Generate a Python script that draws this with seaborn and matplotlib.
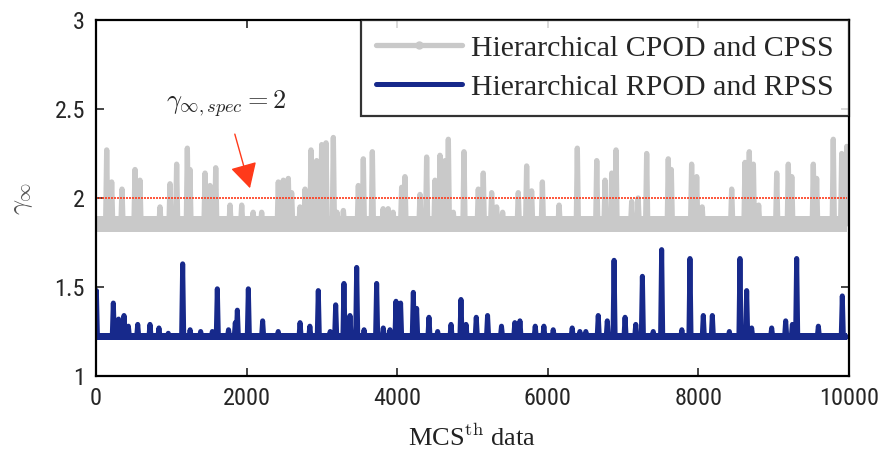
import matplotlib
matplotlib.use("Agg")
import matplotlib.pyplot as plt
from matplotlib import font_manager
from matplotlib.lines import Line2D
import seaborn as sns
import pandas as pd

# Peak positions / heights of the excursions above the noise floor
gray_peak_x = [142, 208, 345, 518, 584, 850, 983, 1071, 1213, 1248, 1448, 1514, 1590, 1780, 1935,
               2087, 2200, 2421, 2488, 2554, 2598, 2709, 2776, 2855, 2930, 2997, 3055, 3152, 3200,
               3285, 3484, 3550, 3670, 3813, 3880, 3946, 4059, 4103, 4303, 4391, 4502, 4568, 4635,
               4679, 4745, 4887, 5077, 5143, 5254, 5320, 5400, 5608, 5719, 5785, 5928, 6150, 6392,
               6650, 6760, 6849, 6906, 7114, 7200, 7313, 7600, 7640, 7910, 7977, 8050, 8442, 8619,
               8676, 8730, 8800, 9040, 9194, 9240, 9526, 9570, 9791, 9903, 9970]
gray_peak_y = [2.27, 2.09, 2.05, 2.16, 2.10, 1.95, 2.08, 2.19, 2.28, 2.16, 2.14, 2.07, 2.17, 1.96, 1.96,
               1.92, 1.92, 2.09, 2.10, 2.11, 2.03, 1.95, 2.05, 2.27, 2.21, 2.30, 2.31, 2.34, 1.92,
               1.93, 2.07, 2.22, 2.26, 1.94, 1.94, 1.92, 2.06, 2.12, 2.02, 2.23, 2.10, 2.24, 2.21,
               2.33, 1.92, 2.26, 2.05, 2.14, 2.03, 1.95, 1.92, 2.03, 2.18, 2.04, 2.09, 1.96, 2.28,
               2.21, 2.10, 2.14, 2.27, 1.98, 2.00, 2.25, 2.22, 2.16, 2.19, 2.12, 1.95, 2.05, 2.20,
               2.26, 2.19, 1.96, 2.14, 2.19, 2.12, 2.19, 2.11, 2.33, 2.25, 2.29]
gray_floor = (1.81, 1.90)

blue_peak_x = [5, 230, 300, 372, 430, 554, 717, 836, 960, 1151, 1250, 1390, 1545, 1611, 1760,
               1850, 1877, 2023, 2213, 2420, 2710, 2840, 2952, 3110, 3183, 3293, 3373, 3462, 3560,
               3727, 3815, 3904, 3984, 4045, 4214, 4258, 4422, 4537, 4715, 4847, 4914, 5050, 5200,
               5385, 5562, 5630, 5833, 5948, 6072, 6324, 6426, 6505, 6670, 6790, 6880, 7026, 7168,
               7256, 7400, 7512, 7780, 7888, 8065, 8185, 8411, 8552, 8641, 8707, 8973, 9159, 9248,
               9305, 9593, 9911]
blue_peak_y = [1.48, 1.41, 1.32, 1.34, 1.28, 1.29, 1.29, 1.27, 1.24, 1.63, 1.26, 1.25, 1.25, 1.49, 1.26,
               1.30, 1.37, 1.49, 1.31, 1.25, 1.30, 1.28, 1.48, 1.25, 1.40, 1.52, 1.34, 1.61, 1.26,
               1.52, 1.27, 1.26, 1.42, 1.41, 1.47, 1.38, 1.33, 1.25, 1.29, 1.43, 1.29, 1.33, 1.34,
               1.28, 1.30, 1.31, 1.28, 1.28, 1.26, 1.27, 1.25, 1.25, 1.34, 1.31, 1.65, 1.33, 1.29,
               1.56, 1.25, 1.71, 1.26, 1.66, 1.34, 1.34, 1.25, 1.66, 1.48, 1.27, 1.27, 1.31, 1.29,
               1.66, 1.28, 1.45]
blue_floor = (1.20, 1.24)

n_samples = 9980
gamma_spec = 2.0
x_ticks = [0, 2000, 4000, 6000, 8000, 10000]
y_ticks = [1, 1.5, 2, 2.5, 3]
y_tick_labels = ["1", "1.5", "2", "2.5", "3"]
series_names = ["Hierarchical CPOD and CPSS", "Hierarchical RPOD and RPSS"]

GRAY = "#c9c9c9"
BLUE = "#17298b"
RED = "#ff3a1a"


def trace(peak_x, peak_y, floor, half_width=14):
    base = sum(floor) / 2
    xs, ys = [0], [base]
    for px, py in zip(peak_x, peak_y):
        xs += [max(px - half_width, 0), px, min(px + half_width, n_samples)]
        ys += [base, py, base]
    xs.append(n_samples)
    ys.append(base)
    return pd.DataFrame({"x": xs, "y": ys})


def first_available(*names):
    have = {f.name for f in font_manager.fontManager.ttflist}
    for n in names:
        if n in have:
            return n
    return "Liberation Sans"


TICK_FONT = first_available("Liberation Sans Narrow", "DejaVu Sans Condensed",
                            "Roboto Condensed", "Liberation Sans")

sns.set_style("ticks")
plt.rcParams["mathtext.fontset"] = "cm"
plt.rcParams["font.family"] = ["Liberation Sans", "DejaVu Sans"]

fig = plt.figure(figsize=(8.93, 4.59), dpi=100)
ax = fig.add_axes([96 / 893, 1 - 376 / 459, (849 - 96) / 893, (376 - 20) / 459])

# noise floors
ax.fill_between([0, n_samples], gray_floor[0], gray_floor[1], color=GRAY, lw=0)
ax.fill_between([0, n_samples], blue_floor[0], blue_floor[1], color=BLUE, lw=0)

gray_df = trace(gray_peak_x, gray_peak_y, gray_floor)
blue_df = trace(blue_peak_x, blue_peak_y, blue_floor)
sns.lineplot(data=gray_df, x="x", y="y", sort=False, estimator=None, color=GRAY,
             lw=3.8, ax=ax, solid_joinstyle="round")
sns.lineplot(data=blue_df, x="x", y="y", sort=False, estimator=None, color=BLUE,
             lw=3.6, ax=ax, solid_joinstyle="round")

# specification level
ax.plot([0, 9970], [gamma_spec, gamma_spec], color=RED, lw=1.2, ls=(0, (1.2, 0.6)))
ax.annotate(r"$\gamma_{\infty,spec} = 2$", xy=(2045, 2.055), xytext=(1730, 2.53),
            fontsize=19, ha="center", va="center",
            arrowprops=dict(arrowstyle="-|>,head_length=0.7,head_width=0.38", color=RED,
                            lw=1.0, mutation_scale=22, shrinkA=9, shrinkB=0))

ax.set_xlim(0, 10000)
ax.set_ylim(1, 3)
ax.set_xticks(x_ticks)
ax.set_yticks(y_ticks)
ax.set_yticklabels(y_tick_labels)
ax.tick_params(direction="in", length=6, width=1.2, top=True, right=True,
               labelsize=17.5, labelcolor="#262626", pad=8)
for lab in ax.get_xticklabels() + ax.get_yticklabels():
    lab.set_family(TICK_FONT)
for s in ax.spines.values():
    s.set_linewidth(1.6)
    s.set_color("black")

ax.set_xlabel(r"MCS$^{\mathrm{th}}$ data", family="Liberation Serif", fontsize=19,
              color="#222222", labelpad=10)
ax.set_ylabel(r"$\gamma_\infty$", fontsize=19, color="#555555", labelpad=14)

handles = [Line2D([0, 0.5, 1], [0, 0, 0], color=GRAY, lw=3.8, marker="o", markersize=5,
                  markevery=[1], markerfacecolor=GRAY, markeredgecolor=GRAY),
           Line2D([], [], color=BLUE, lw=3.6)]
leg = ax.legend(handles, series_names, loc="upper right", borderaxespad=0,
                fancybox=False, frameon=True, handlelength=2.9, handletextpad=0.3,
                labelspacing=0.4, borderpad=0.5,
                prop={"family": "Liberation Serif", "size": 21.5})
leg.get_frame().set_edgecolor("black")
leg.get_frame().set_linewidth(1.6)

fig.savefig("out.png", dpi=100)
